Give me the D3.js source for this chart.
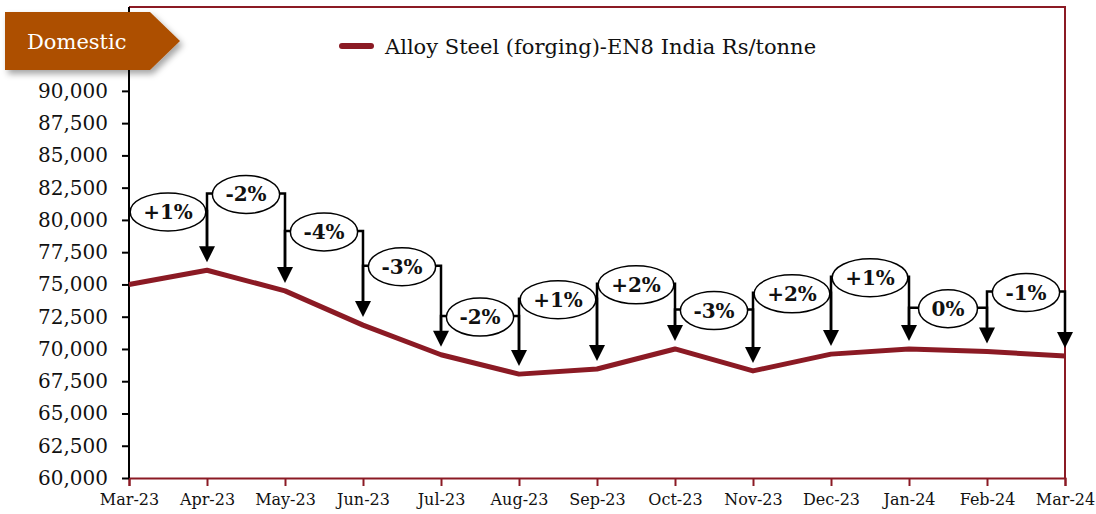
<!DOCTYPE html>
<html>
<head>
<meta charset="utf-8">
<script src="https://cdn.jsdelivr.net/npm/d3@7"></script>
<style>
  body { margin: 0; background: #fff; }
  svg { display: block; }
</style>
</head>
<body>
<div id="chart-area"></div>
<script>
// months and price series (Rs/tonne)
var months = ["Mar-23","Apr-23","May-23","Jun-23","Jul-23","Aug-23","Sep-23","Oct-23","Nov-23","Dec-23","Jan-24","Feb-24","Mar-24"];
var prices = [75000, 76100, 74500, 71850, 69550, 68050, 68450, 70000, 68300, 69600, 70000, 69800, 69450];

// month-on-month change labels and the level (in Rs) where each bracket sits
var changeLabels = ["+1%","-2%","-4%","-3%","-2%","+1%","+2%","-3%","+2%","+1%","0%","-1%"];
var bracketLevels = [80700, 82050, 79150, 76450, 72550, 73900, 75050, 73050, 74350, 75600, 73200, 74450];

var yTicks = [60000, 62500, 65000, 67500, 70000, 72500, 75000, 77500, 80000, 82500, 85000, 87500, 90000];

var seriesName = "Alloy Steel (forging)-EN8 India Rs/tonne";
var bannerText = "Domestic";

const svgWidth = 1096;
const svgHeight = 514;
var margin = {left:129, right:31, top:7, bottom:36};
var chartWidth = svgWidth - margin.left - margin.right,
    chartHeight = svgHeight - margin.top - margin.bottom;

var red = "#8b1a24";
var serif = "'DejaVu Serif', 'Liberation Serif', serif";

var root = d3.select("#chart-area")
    .append("svg")
    .attr("width", svgWidth)
    .attr("height", svgHeight);

var defs = root.append("defs");
var shadow = defs.append("filter").attr("id", "shadow")
    .attr("x", "-10%").attr("y", "-20%").attr("width", "130%").attr("height", "160%");
shadow.append("feDropShadow")
    .attr("dx", 3).attr("dy", 4).attr("stdDeviation", 3)
    .attr("flood-color", "#000").attr("flood-opacity", 0.35);

var svg = root.append("g")
    .attr("transform", "translate("+margin.left+","+margin.top+")");

var x = d3.scalePoint()
    .domain(months)
    .range([0, chartWidth]);

var y = d3.scaleLinear()
    .domain([60000, 96500])
    .range([chartHeight, 0]);

// plot border (top/right)
svg.append("path")
    .attr("d", "M0,0H"+chartWidth+"V"+chartHeight)
    .attr("fill", "none")
    .attr("stroke", red)
    .attr("stroke-width", 2);

// x axis
var xAxis = svg.append("g")
    .attr("transform", "translate(0,"+chartHeight+")")
    .call(d3.axisBottom(x).tickSize(8).tickPadding(8));
xAxis.select(".domain").attr("stroke", red).attr("stroke-width", 2);
xAxis.selectAll(".tick line").attr("stroke", red).attr("stroke-width", 2);
xAxis.selectAll(".tick text")
    .attr("font-family", serif)
    .attr("font-size", "16px")
    .attr("fill", "#111");

// y axis
var yAxis = svg.append("g")
    .call(d3.axisLeft(y).tickValues(yTicks).tickSize(7).tickPadding(14)
        .tickFormat(d3.format(",")));
yAxis.select(".domain").attr("stroke", "#000").attr("stroke-width", 2)
    .attr("d", "M0,0V"+chartHeight);
yAxis.selectAll(".tick line").attr("stroke", "#000").attr("stroke-width", 2);
yAxis.selectAll(".tick text")
    .attr("font-family", serif)
    .attr("font-size", "20px")
    .attr("fill", "#111");

// price line
var line = d3.line()
    .x(function(d, i){ return x(months[i]); })
    .y(function(d){ return y(d); });

svg.append("path")
    .datum(prices)
    .attr("d", line)
    .attr("fill", "none")
    .attr("stroke", red)
    .attr("stroke-width", 5)
    .attr("stroke-linejoin", "round");

// change brackets with arrows
var arrowGap = 8, headH = 16, headW = 16;
var ann = svg.append("g");

changeLabels.forEach(function(lbl, i){
    var x0 = x(months[i]), x1 = x(months[i+1]);
    var yb = y(bracketLevels[i]);
    var tip0 = y(prices[i]) - arrowGap;
    var tip1 = y(prices[i+1]) - arrowGap;

    // left leg (hidden under previous shaft), top bar, right shaft
    ann.append("path")
        .attr("d", "M"+x0+","+(i === 0 ? yb : tip0 - headH)+"V"+yb+"H"+x1+"V"+(tip1 - headH + 1))
        .attr("fill", "none")
        .attr("stroke", "#000")
        .attr("stroke-width", 2.5);

    // arrowhead
    ann.append("path")
        .attr("d", "M"+(x1-headW/2)+","+(tip1-headH)+"L"+(x1+headW/2)+","+(tip1-headH)+"L"+x1+","+tip1+"Z")
        .attr("fill", "#000");

    var cx = (x0 + x1) / 2;
    var t = ann.append("text")
        .attr("x", cx)
        .attr("y", yb + 8)
        .attr("text-anchor", "middle")
        .attr("font-family", serif)
        .attr("font-weight", "bold")
        .attr("font-size", "20px")
        .attr("fill", "#111")
        .text(lbl);
    var w = t.node().getComputedTextLength();

    ann.insert("ellipse", function(){ return t.node(); })
        .attr("cx", cx)
        .attr("cy", yb + 1)
        .attr("rx", w/2 + 13)
        .attr("ry", 19)
        .attr("fill", "#fff")
        .attr("stroke", "#000")
        .attr("stroke-width", 1.5);
});

// legend
var legend = root.append("g").attr("transform", "translate(340,46)");
legend.append("line")
    .attr("x1", 2).attr("x2", 31)
    .attr("stroke", red)
    .attr("stroke-width", 6)
    .attr("stroke-linecap", "round");
legend.append("text")
    .attr("x", 45)
    .attr("y", 8)
    .attr("font-family", serif)
    .attr("font-size", "21px")
    .attr("fill", "#111")
    .text(seriesName);

// "Domestic" banner
var banner = root.append("g");
banner.append("path")
    .attr("d", "M5,12H150L180,41L150,70H5Z")
    .attr("fill", "#ad5000")
    .attr("filter", "url(#shadow)");
banner.append("text")
    .attr("x", 27)
    .attr("y", 49)
    .attr("font-family", serif)
    .attr("font-size", "21px")
    .attr("fill", "#fff")
    .text(bannerText);
</script>
</body>
</html>
